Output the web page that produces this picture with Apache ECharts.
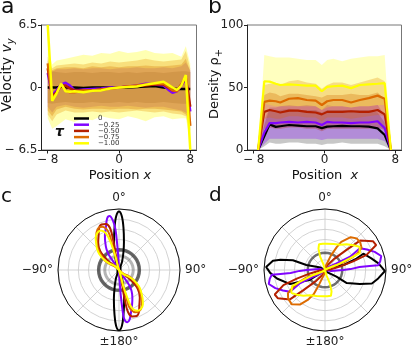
<!DOCTYPE html>
<html><head><meta charset="utf-8">
<script src="https://cdn.jsdelivr.net/npm/echarts@6/dist/echarts.min.js"></script>
<style>html,body{margin:0;padding:0;background:#fff}#c{width:415px;height:348px}</style>
</head><body><div id="c"></div>
<script>
// ---- data ----
const tauLabels = ['0', '−0.25', '−0.50', '−0.75', '−1.00'];
const colors = ['#000000', '#8004ff', '#b42000', '#dd6b00', '#ffff00'];

// panel a: velocity
const xsA = [-8,-7.5,-7,-6.5,-6,-5.5,-5,-4,-3,-2,-1,0,1,2,3,4,5,5.5,6,6.5,7,7.5,8];
const velBlack  = [0,0,0,0.1,0,0,0,-0.05,0,0,0,0,0,0.05,0.1,0.15,0,-0.05,-0.1,-0.15,-0.15,-0.15,-0.15];
const velPurple = [1.5,-0.8,-0.3,0.3,0.5,0.2,-0.3,-0.2,-0.15,-0.1,0,0,0.1,0.2,0.4,0.3,0.2,-0.2,-0.55,-0.4,0.2,0.9,-2.5];
const velRed    = [2.0,-0.9,-0.5,0.2,0.2,-0.1,-0.3,-0.3,-0.3,-0.2,-0.1,0,0.1,0.15,0.2,0.3,0.3,0,-0.3,-0.3,0.3,1.0,-2.0];
const velOrange = [2.5,-1.1,-0.6,0.3,-0.3,-0.5,-0.5,-0.3,-0.3,-0.2,-0.1,0,0.1,0.2,0.3,0.4,0.4,0.1,-0.3,-0.4,0.3,1.2,-4.0];
const velYellow = [6.5,-1.4,-0.6,0.4,-0.4,-0.45,-0.4,-0.5,-0.35,-0.3,-0.1,0,0.05,0.1,0.3,0.45,0.6,0.3,0,-0.25,0.2,1.3,-6.5];

const bxA = [-8,-7.5,-7,-6,-5,-4,-3,-2,-1,0,1,2,3,4,5,6,7,7.5,8];
const velBandBlackLo  = [-1.6,-1.7,-1.6,-1.5,-1.6,-1.6,-1.5,-1.6,-1.6,-1.5,-1.6,-1.5,-1.6,-1.6,-1.5,-1.6,-1.7,-1.7,-1.6];
const velBandBlackHi  = [1.6,1.7,1.6,1.5,1.6,1.6,1.5,1.6,1.6,1.5,1.6,1.5,1.6,1.6,1.5,1.6,1.7,1.7,1.6];
const velBandPurpleLo = [-2.0,-2.6,-2.0,-1.8,-2.0,-2.1,-2.0,-1.9,-2.0,-2.0,-1.9,-2.0,-2.1,-2.0,-2.0,-2.2,-2.4,-2.6,-2.8];
const velBandPurpleHi = [2.2,1.6,1.9,1.9,2.0,1.9,2.0,2.0,1.9,2.0,2.0,2.1,2.0,2.0,2.1,2.0,2.2,2.6,1.8];
const velBandRedLo    = [-2.4,-3.0,-2.3,-2.0,-2.2,-2.3,-2.2,-2.2,-2.3,-2.2,-2.2,-2.3,-2.2,-2.2,-2.3,-2.4,-2.5,-2.8,-3.5];
const velBandRedHi    = [2.8,1.8,2.0,2.1,2.1,2.0,2.2,2.1,2.2,2.1,2.2,2.2,2.3,2.2,2.2,2.3,2.4,3.0,1.6];
const velBandOrangeLo = [-2.8,-3.5,-2.8,-2.4,-2.6,-2.6,-2.5,-2.6,-2.5,-2.6,-2.5,-2.4,-2.5,-2.6,-2.5,-2.7,-2.8,-3.0,-4.5];
const velBandOrangeHi = [3.2,2.0,2.3,2.4,2.5,2.4,2.6,2.5,2.7,2.6,2.7,2.8,3.0,2.8,2.7,2.8,2.9,3.8,2.0];
const velBandYellowLo = [-3.2,-4.3,-4.0,-3.3,-3.6,-3.2,-3.4,-3.0,-3.2,-3.3,-3.0,-3.2,-3.5,-3.1,-3.0,-3.3,-3.2,-3.2,-5.5];
const velBandYellowHi = [4.0,2.4,2.8,3.0,3.2,3.4,3.3,3.6,3.5,3.8,3.6,3.7,3.9,3.6,3.5,3.6,3.2,4.3,2.5];

// panel b: density
const xsB = [-7.5,-6.8,-6.2,-5.5,-5,-4,-3,-2,-1,-0.3,0.3,1,2,3,4,5,6,6.8,7.5];
const denBlack  = [0,11,20.5,18.5,19,20,19.5,19,19,17.5,18.7,19,19.3,19,19,18.7,17.3,12,0];
const denPurple = [0,14,21.5,21.5,22,22.5,22,22.5,22,20,22.5,22,22,21.5,22,22,23,17.5,0];
const denRed    = [0,30.5,32,31,30,31.5,31.5,30.5,30,28.5,30.5,30.5,30.5,31,30.5,30.5,32,28.5,0];
const denOrange = [0,38.5,39.5,39,38,41,41.5,40,39.5,36,39,40,40,38,40,41.5,43.5,41,0];
const denYellow = [0,55,54.7,53,52,52.5,52,51.5,51.5,47,50.5,51,51.5,49.5,52,52.5,53,53.5,0];
const denBandBlackLo  = [0,3,6,5,5,6,6,5,5,4,5,5,6,5,5,5,5,3,0];
const denBandBlackHi  = [0,20,33,31,32,33,32,32,32,30,32,32,32,32,32,32,30,22,0];
const denBandPurpleLo = [0,5,9,9,9,9,9,9,9,8,9,9,9,9,9,9,9,7,0];
const denBandPurpleHi = [0,24,34,34,35,36,35,36,35,32,36,35,35,34,35,35,36,28,0];
const denBandRedLo    = [0,17,18,17,17,18,18,17,17,15,17,17,17,17,17,17,18,16,0];
const denBandRedHi    = [0,44,46,45,43,45,45,44,43,42,44,44,44,45,44,44,46,41,0];
const denBandOrangeLo = [0,25,26,25,25,27,27,26,26,23,26,26,26,25,26,27,28,27,0];
const denBandOrangeHi = [0,52,53,53,52,55,56,54,53,49,52,54,54,52,54,56,58,55,0];
const denBandYellowLo = [0,37,36,35,35,35,35,35,35,32,34,35,35,34,35,35,36,36,0];
const denBandYellowHi = [0,76,75,74,74,74,73,72,72,68,72,73,71,73,74,75,75,76,0];

// panel c: polar [angle deg, radius]
const cBlack = [[-30,0.3],[-20,0.9],[-14,1.8],[-10,2.8],[-6,4.2],[-3,5.3],[0,5.75],[3,5.3],[6,4.2],[10,2.8],[14,1.8],[20,0.9],[30,0.3],[150,0.3],[160,0.9],[166,1.8],[170,2.9],[174,4.3],[177,5.5],[180,5.95],[-177,5.5],[-174,4.3],[-170,2.9],[-166,1.8],[-160,0.9],[-150,0.3],[-30,0.3]];
const cPurple = [[0,0.2],[-3,1.2],[-4,2.5],[-5,4.0],[-7,4.9],[-10,5.4],[-13,5.2],[-17,4.4],[-22,3.7],[-26,3.1],[-31,2.4],[-34,1.8],[-34,1.0],[-30,0.4],[150,0.4],[146,1.0],[146,1.8],[149,2.4],[154,3.0],[159,3.6],[164,4.3],[168,5.0],[171,5.2],[174,4.8],[175,3.9],[176,2.5],[177,1.2],[180,0.2],[0,0.2]];
const cRed = [[-14,0.5],[-12,1.5],[-11,2.9],[-12,4.2],[-16,4.7],[-21,4.8],[-26,4.5],[-30,4.0],[-37,3.4],[-45,2.6],[-50,1.4],[-45,0.6],[135,0.6],[130,1.4],[135,2.6],[143,3.4],[150,4.0],[154,4.5],[159,4.85],[164,4.75],[168,4.2],[169,2.9],[168,1.5],[166,0.5],[-14,0.5]];
const cOrange = [[-17,0.6],[-15,1.5],[-15,2.6],[-15,3.6],[-17,4.2],[-21,4.55],[-26,4.6],[-31,4.3],[-35,3.9],[-41,3.3],[-47,2.7],[-55,1.8],[-58,1.2],[-50,0.5],[130,0.5],[122,1.2],[125,1.8],[133,2.7],[139,3.3],[145,3.9],[149,4.3],[154,4.5],[159,4.45],[163,4.1],[165,3.6],[165,2.6],[165,1.5],[163,0.6],[-17,0.6]];
const cYellow = [[-16,0.5],[-15,1.6],[-17,3.0],[-20,3.9],[-25,4.3],[-31,4.2],[-36,3.9],[-40,3.5],[-46,3.0],[-51,2.5],[-56,1.7],[-55,1.1],[-45,0.5],[135,0.5],[125,1.1],[124,1.7],[129,2.5],[134,3.0],[140,3.6],[145,4.1],[151,4.4],[156,4.4],[161,4.0],[163,3.1],[165,1.6],[164,0.5],[-16,0.5]];
const cRingDark = 2.0;
const cRingLight = 1.4;

// panel d: polar [angle deg, radius]
const dBlack = [[55,0.5],[75,1.9],[70,3.3],[67,4.1],[76,4.7],[83,5.3],[91,5.9],[99,5.3],[106,4.8],[112,3.7],[121,2.5],[120,1.3],[130,0.4],[-60,0.5],[-75,1.9],[-73,3.3],[-77,4.5],[-80,5.2],[-87,5.8],[-93,5.4],[-100,4.8],[-112,3.7],[-115,2.8],[-123,1.8],[-125,0.5],[55,0.5]];
const dPurple = [[40,0.3],[60,1.3],[62,2.8],[58,4.05],[64,4.6],[70,5.2],[76,5.7],[81,5.5],[85,5.25],[85,4.4],[85,3.4],[88,2.5],[90,1.8],[100,0.6],[-80,0.6],[-90,1.8],[-92,2.5],[-95,3.4],[-95,4.4],[-95,5.25],[-99,5.5],[-104,5.7],[-110,5.2],[-116,4.6],[-122,4.05],[-118,2.8],[-120,1.3],[-140,0.3],[40,0.3]];
const dRed = [[20,0.4],[40,1.5],[47,2.9],[50,4.5],[59,5.5],[64,5.6],[70,4.35],[73,2.9],[77,1.5],[85,0.5],[-95,0.5],[-103,1.5],[-107,2.9],[-110,4.35],[-116,5.5],[-121,5.4],[-130,4.5],[-133,2.9],[-140,1.5],[-160,0.4],[20,0.4]];
const dOrange = [[10,0.4],[22,1.5],[27,2.5],[30,3.2],[38,4.1],[45,4.4],[52,4.4],[59,4.2],[63,3.6],[65,3.0],[68,2.0],[65,1.0],[60,0.3],[-120,0.3],[-115,1.0],[-112,2.0],[-115,2.8],[-118,3.5],[-122,4.3],[-128,4.6],[-136,4.7],[-144,4.2],[-150,3.4],[-155,2.6],[-158,1.5],[-170,0.4],[10,0.4]];
const dYellow = [[-16,0.6],[-20,1.4],[-17,2.2],[-13,2.6],[-5,2.6],[4,2.6],[18,2.7],[31,2.9],[40,3.3],[49,3.7],[56,4.1],[64,3.8],[65,2.7],[67,1.25],[60,0.4],[-120,0.4],[-113,1.25],[-115,2.7],[-116,3.6],[-124,4.0],[-131,3.7],[-140,3.3],[-149,2.9],[-162,2.7],[-176,2.6],[175,2.6],[167,2.6],[163,2.2],[160,1.4],[164,0.6],[-16,0.6]];
const dRing = 1.7;

// ---- chart ----
const FONT = 'DejaVu Sans';
const chart = echarts.init(document.getElementById('c'), null, {renderer: 'canvas'});

function band(xs, lo, hi, color, opacity, gi) {
  return {
    type: 'custom', xAxisIndex: gi, yAxisIndex: gi, clip: true, silent: true, z: 1,
    data: xs.map((x, i) => [x, lo[i], hi[i]]),
    encode: {x: 0, y: [1, 2]},
    renderItem: function (params, api) {
      if (params.dataIndex !== 0) return null;
      const pts = [];
      for (let i = 0; i < xs.length; i++) pts.push(api.coord([xs[i], hi[i]]));
      for (let i = xs.length - 1; i >= 0; i--) pts.push(api.coord([xs[i], lo[i]]));
      return {type: 'polygon', shape: {points: pts}, style: {fill: color, opacity: opacity}};
    }
  };
}
function line(name, xs, ys, color, gi, w) {
  return {
    type: 'line', name: name, xAxisIndex: gi, yAxisIndex: gi, clip: true,
    data: xs.map((x, i) => [x, ys[i]]), showSymbol: false, symbol: 'none',
    lineStyle: {color: color, width: w}, itemStyle: {color: color}, z: 3, silent: true
  };
}
function ringPts(r) {
  const pts = [];
  for (let a = -180; a <= 180; a += 5) pts.push([a, r]);
  return pts;
}
function polarLine(pts, color, pi, w, smooth) {
  return {
    type: 'line', coordinateSystem: 'polar', polarIndex: pi, showSymbol: false, symbol: 'none',
    data: pts.map(p => [p[1], p[0]]), smooth: smooth, silent: true,
    lineStyle: {color: color, width: w}, z: 3
  };
}
const negFmt = v => (v < 0 ? '− ' + Math.abs(v) : String(v));

const xAxisCommon = {
  type: 'value', min: -8.7, max: 8.7,
  axisLine: {onZero: false, lineStyle: {color: '#222', width: 1}},
  axisTick: {customValues: [-8, 0, 8], length: 3.5, lineStyle: {color: '#222'}},
  axisLabel: {customValues: [-8, 0, 8], formatter: negFmt, fontFamily: FONT, fontSize: 12, color: '#222', margin: 4},
  splitLine: {show: false}
};
const angleAxisCommon = {
  type: 'value', min: -180, max: 180, interval: 45, startAngle: -90, clockwise: true,
  axisLine: {lineStyle: {color: '#111', width: 1}},
  axisTick: {show: false},
  splitLine: {show: true, lineStyle: {color: '#c8c8c8', width: 0.8}},
  axisLabel: {
    fontFamily: FONT, fontSize: 12, color: '#222', margin: 5,
    formatter: v => (v === 0 ? '0°' : v === 90 ? '90°' : v === -90 ? '−90°' : (v === 180 || v === -180) ? '±180°' : '')
  }
};
const radiusAxisCommon = {
  min: 0, max: 6, interval: 1,
  axisLine: {show: false}, axisTick: {show: false}, axisLabel: {show: false},
  splitLine: {show: true, lineStyle: {color: '#c8c8c8', width: 0.8}}
};

const series = [];
// panel a bands
series.push(band(bxA, velBandBlackLo, velBandBlackHi, '#000000', 0.22, 0));
series.push(band(bxA, velBandPurpleLo, velBandPurpleHi, colors[1], 0.3, 0));
series.push(band(bxA, velBandRedLo, velBandRedHi, colors[2], 0.3, 0));
series.push(band(bxA, velBandOrangeLo, velBandOrangeHi, colors[3], 0.3, 0));
series.push(band(bxA, velBandYellowLo, velBandYellowHi, colors[4], 0.3, 0));
// panel a lines
[velBlack, velPurple, velRed, velOrange, velYellow].forEach((v, i) => series.push(line(tauLabels[i], xsA, v, colors[i], 0, 2.5)));
// panel b bands
series.push(band(xsB, denBandBlackLo, denBandBlackHi, '#000000', 0.22, 1));
series.push(band(xsB, denBandPurpleLo, denBandPurpleHi, colors[1], 0.3, 1));
series.push(band(xsB, denBandRedLo, denBandRedHi, colors[2], 0.3, 1));
series.push(band(xsB, denBandOrangeLo, denBandOrangeHi, colors[3], 0.3, 1));
series.push(band(xsB, denBandYellowLo, denBandYellowHi, colors[4], 0.25, 1));
[denBlack, denPurple, denRed, denOrange, denYellow].forEach((v, i) => series.push(line('b' + i, xsB, v, colors[i], 1, 2.2)));
// panel c
series.push(polarLine(ringPts(cRingLight), 'rgba(90,90,90,0.45)', 0, 3, false));
series.push(polarLine(ringPts(cRingDark), 'rgba(40,40,40,0.7)', 0, 3.5, false));
[cBlack, cPurple, cRed, cOrange, cYellow].forEach((p, i) => series.push(polarLine(p, colors[i], 0, 2, 0.35)));
// panel d
series.push(polarLine(ringPts(dRing), 'rgba(50,50,50,0.7)', 1, 2.5, false));
[dBlack, dPurple, dRed, dOrange, dYellow].forEach((p, i) => series.push(polarLine(p, colors[i], 1, 2, false)));

const sub = {fontFamily: FONT, fontSize: 10, padding: [9, 0, 0, 0]};
chart.setOption({
  animation: false,
  backgroundColor: '#fff',
  grid: [
    {left: 41.5, top: 25, width: 155, height: 125, show: true, borderColor: '#777', borderWidth: 1, backgroundColor: 'transparent'},
    {left: 247.5, top: 25, width: 154, height: 125, show: true, borderColor: '#777', borderWidth: 1, backgroundColor: 'transparent'}
  ],
  xAxis: [
    Object.assign({}, xAxisCommon, {gridIndex: 0}),
    Object.assign({}, xAxisCommon, {gridIndex: 1})
  ],
  yAxis: [
    {gridIndex: 0, type: 'value', min: -6.5, max: 6.5, interval: 6.5,
     axisLine: {show: true, onZero: false, lineStyle: {color: '#222'}},
     axisTick: {show: true, length: 3.5, lineStyle: {color: '#222'}},
     axisLabel: {formatter: negFmt, fontFamily: FONT, fontSize: 12, color: '#222', margin: 4},
     splitLine: {show: false}},
    {gridIndex: 1, type: 'value', min: 0, max: 100, interval: 50,
     axisLine: {show: true, onZero: false, lineStyle: {color: '#222'}},
     axisTick: {show: true, length: 3.5, lineStyle: {color: '#222'}},
     axisLabel: {fontFamily: FONT, fontSize: 12, color: '#222', margin: 4},
     splitLine: {show: false}}
  ],
  polar: [
    {center: [119, 270], radius: 61},
    {center: [325, 270], radius: 61}
  ],
  angleAxis: [
    Object.assign({}, angleAxisCommon, {polarIndex: 0}),
    Object.assign({}, angleAxisCommon, {polarIndex: 1})
  ],
  radiusAxis: [
    Object.assign({}, radiusAxisCommon, {polarIndex: 0}),
    Object.assign({}, radiusAxisCommon, {polarIndex: 1})
  ],
  legend: {
    data: tauLabels, left: 69, top: 110, orient: 'vertical', icon: 'rect',
    itemWidth: 15, itemHeight: 2.5, itemGap: -0.8, selectedMode: false,
    textStyle: {fontFamily: FONT, fontSize: 7, color: '#333', lineHeight: 7, padding: [0, 0, 0, 4]}
  },
  graphic: [
    {type: 'text', left: 1, top: -4, style: {text: 'a', font: '22px "DejaVu Sans"', fill: '#111'}},
    {type: 'text', left: 208, top: -4, style: {text: 'b', font: '22px "DejaVu Sans"', fill: '#111'}},
    {type: 'text', left: 1, top: 187, style: {text: 'c', font: '20px "DejaVu Sans"', fill: '#111'}},
    {type: 'text', left: 209, top: 186, style: {text: 'd', font: '20px "DejaVu Sans"', fill: '#111'}},
    {type: 'text', left: 55, top: 125, style: {text: 'τ', font: 'italic bold 14px "DejaVu Sans"', fill: '#111'}},
    {type: 'text', x: 7, y: 75, rotation: Math.PI / 2,
     style: {text: 'Velocity {v|v}{s|y}', fontFamily: FONT, fontSize: 14, fill: '#111', align: 'center', verticalAlign: 'middle',
             rich: {v: {fontFamily: FONT, fontSize: 14, fontStyle: 'italic'}, s: Object.assign({fontStyle: 'italic'}, sub)}}},
    {type: 'text', x: 215, y: 84, rotation: Math.PI / 2,
     style: {text: 'Density ρ{s|+}', fontFamily: FONT, fontSize: 13, fill: '#111', align: 'center', verticalAlign: 'middle',
             rich: {s: sub}}},
    {type: 'text', x: 120, y: 176,
     style: {text: 'Position {v|x}', fontFamily: FONT, fontSize: 13, fill: '#111', align: 'center', verticalAlign: 'middle',
             rich: {v: {fontFamily: FONT, fontSize: 13, fontStyle: 'italic'}}}},
    {type: 'text', x: 325, y: 176,
     style: {text: 'Position  {v|x}', fontFamily: FONT, fontSize: 13, fill: '#111', align: 'center', verticalAlign: 'middle',
             rich: {v: {fontFamily: FONT, fontSize: 13, fontStyle: 'italic'}}}}
  ],
  series: series
});
</script>
</body></html>
